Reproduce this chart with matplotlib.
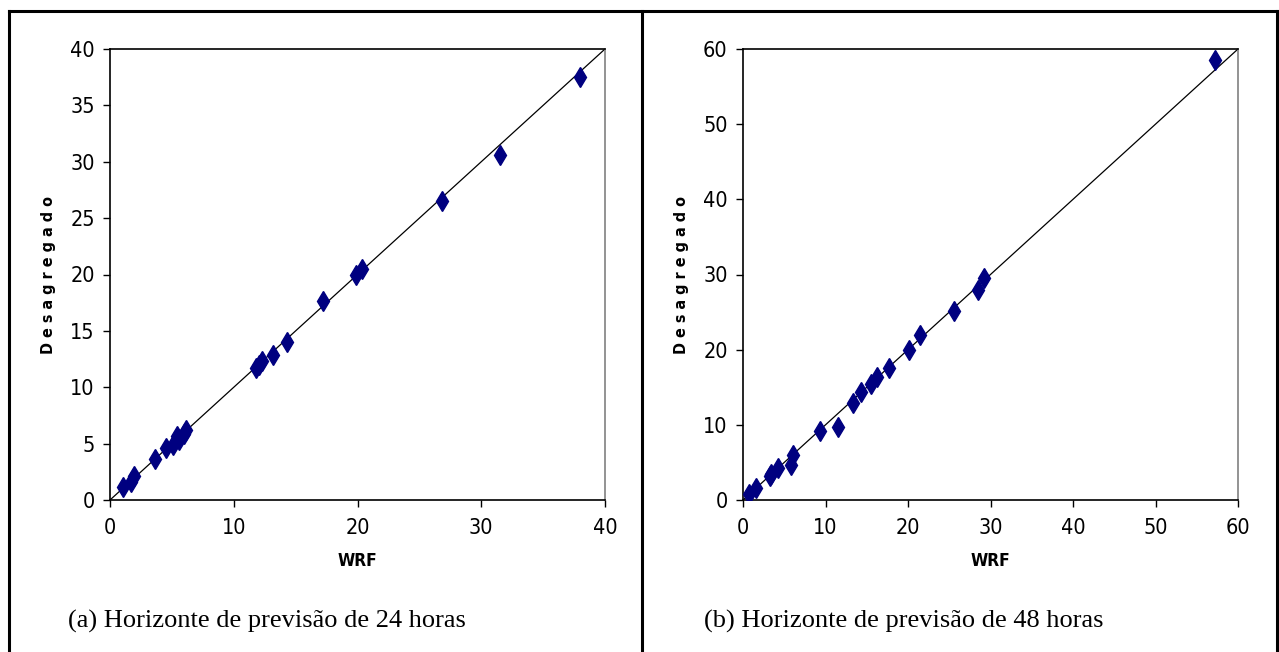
import matplotlib.pyplot as plt
from matplotlib.lines import Line2D

# WRF vs desagregado, horizonte de 24 horas
wrf_24 = [1.03, 1.70, 1.96, 3.64, 4.53, 5.12, 5.44, 5.58, 5.98, 6.14,
          11.8, 12.07, 12.26, 13.2, 14.33, 17.24, 19.88, 20.36, 26.83, 31.49, 37.98]
des_24 = [1.18, 1.62, 2.13, 3.61, 4.64, 4.88, 5.68, 5.32, 5.85, 6.21,
          11.73, 11.97, 12.33, 12.86, 14.04, 17.65, 19.96, 20.49, 26.55, 30.63, 37.54]

# WRF vs desagregado, horizonte de 48 horas
wrf_48 = [0.77, 1.58, 3.27, 3.43, 4.24, 5.82, 6.02, 9.33, 11.5, 13.37, 14.34,
          15.52, 16.2, 17.7, 20.1, 21.45, 25.6, 28.5, 29.25, 57.2]
des_48 = [0.80, 1.55, 3.19, 3.46, 4.21, 4.66, 5.99, 9.18, 9.71, 12.94, 14.41,
          15.38, 16.4, 17.6, 19.95, 21.9, 25.2, 27.9, 29.5, 58.5]

captions = ['(a) Horizonte de previsão de 24 horas',
            '(b) Horizonte de previsão de 48 horas']

sans = ['DejaVu Sans']
serif = ['Liberation Serif', 'DejaVu Serif']

fig = plt.figure(figsize=(12.79, 6.52), dpi=100)
W, H = 1279, 652


def px_box(x0, x1, y_top, y_bot):
    return [x0 / W, 1 - y_bot / H, (x1 - x0) / W, (y_bot - y_top) / H]


def scatter_panel(box, xs, ys, lim, ystep):
    ax = fig.add_axes(box)
    ax.plot([0, lim], [0, lim], color='black', lw=0.9, zorder=2)
    ax.plot(xs, ys, linestyle='none', marker='d', ms=10,
            color='#000080', mec='#000080', zorder=3)
    ax.set_xlim(0, lim)
    ax.set_ylim(0, lim)
    ax.set_xticks(range(0, lim + 1, 10))
    ax.set_yticks(range(0, lim + 1, ystep))
    ax.tick_params(direction='out', length=5, width=1, colors='black',
                   labelsize=15.5, pad=6)
    for lab in ax.get_xticklabels() + ax.get_yticklabels():
        lab.set_family(sans)
        lab.set_stretch('condensed')
    ax.tick_params(axis='x', pad=8)
    for side in ('left', 'bottom', 'top'):
        ax.spines[side].set_color('black')
        ax.spines[side].set_linewidth(1.2)
    ax.spines['right'].set_color('#808080')
    ax.spines['right'].set_linewidth(1.2)
    ax.set_xlabel('WRF', family=sans, stretch='condensed', fontsize=12.5,
                  fontweight='bold', va='center')
    ax.xaxis.set_label_coords(0.5, -0.135)
    ax.set_ylabel('D e s a g r e g a d o', family=sans, stretch='condensed',
                  fontsize=11.5, fontweight='bold', va='center')
    ax.yaxis.set_label_coords(-0.125, 0.5)
    return ax


scatter_panel(px_box(110, 605, 49, 500), wrf_24, des_24, 40, 5)
scatter_panel(px_box(743, 1238, 49, 500), wrf_48, des_48, 60, 10)

# table borders around the two panels
for (x0, y0, x1, y1) in [(9, 11, 1277, 11), (9, 11, 9, H), (642, 11, 642, H),
                         (1277, 11, 1277, H)]:
    fig.add_artist(Line2D([x0 / W, x1 / W], [1 - y0 / H, 1 - y1 / H],
                          transform=fig.transFigure, color='black', lw=2.2))

fig.text(68 / W, 1 - 628 / H, captions[0], family=serif, fontsize=19,
         va='baseline', ha='left')
fig.text(704 / W, 1 - 628 / H, captions[1], family=serif, fontsize=19,
         va='baseline', ha='left')

fig.savefig('out.png', dpi=100)
